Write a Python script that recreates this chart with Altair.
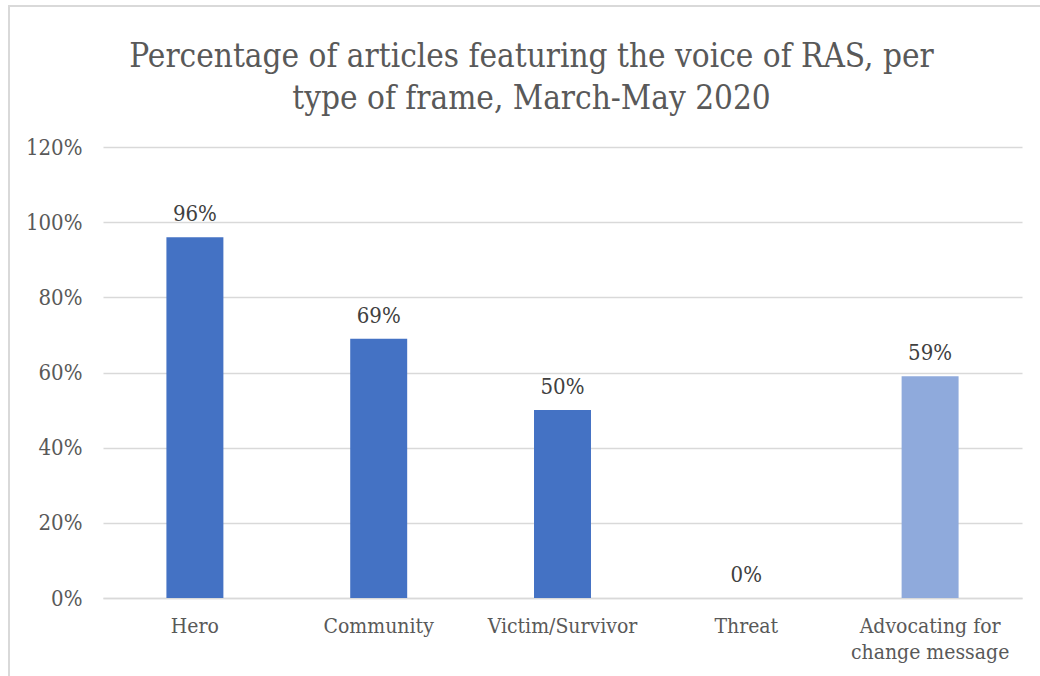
import altair as alt
import pandas as pd

categories = ["Hero", "Community", "Victim/Survivor", "Threat", "Advocating for change message"]
values = [0.96, 0.69, 0.50, 0.00, 0.59]
labels = ["96%", "69%", "50%", "0%", "59%"]
colors = ["#4472C4", "#4472C4", "#4472C4", "#4472C4", "#8FAADC"]
y_ticks = [0, 0.2, 0.4, 0.6, 0.8, 1.0, 1.2]
title_lines = ["Percentage of articles featuring the voice of RAS, per",
               "type of frame, March-May 2020"]

df = pd.DataFrame({"cat": categories, "val": values, "lab": labels, "col": colors})

FONT = "DejaVu Serif Condensed"

x_enc = alt.X("cat:N", sort=categories, title=None,
              scale=alt.Scale(paddingInner=0.69, paddingOuter=0.345),
              axis=alt.Axis(labelAngle=0, labelFont=FONT, labelFontSize=21,
                            labelColor="#595959", labelPadding=17, ticks=False,
                            domainColor="#d9d9d9", domainWidth=1.5,
                            labelLineHeight=26, labelLimit=300,
                            labelExpr="datum.value == 'Advocating for change message' ? ['Advocating for', 'change message'] : datum.label"))

y_enc = alt.Y("val:Q", title=None,
              scale=alt.Scale(domain=[0, 1.2], nice=False),
              axis=alt.Axis(values=y_ticks, format=".0%", labelFont=FONT,
                            labelFontSize=22, labelColor="#595959",
                            labelPadding=21, ticks=False, domain=False,
                            gridColor="#d9d9d9", gridWidth=1.3))

base = alt.Chart(df)

bars = base.mark_bar().encode(
    x=x_enc, y=y_enc,
    color=alt.Color("col:N", scale=None),
)

text = base.mark_text(font=FONT, fontSize=22, color="#404040",
                      baseline="alphabetic", dy=-16).encode(
    x=alt.X("cat:N", sort=categories),
    y=alt.Y("val:Q"),
    text="lab:N",
)

border = base.mark_rect(fill=None, stroke="#d9d9d9", strokeWidth=2).encode(
    x=alt.value(-94), x2=alt.value(1000),
    y=alt.value(-141), y2=alt.value(600),
)

chart = alt.layer(border, bars, text).properties(
    width=919, height=451,
    autosize=alt.AutoSizeParams(type="none"),
    padding={"left": 103, "top": 147, "right": 18, "bottom": 78},
    title=alt.TitleParams(title_lines, font=FONT, fontSize=33, fontWeight="normal",
                          color="#595959", anchor="middle", frame="group",
                          dx=-31, dy=111, offset=0, lineHeight=42),
).configure(background="white").configure_view(stroke=None)

chart.save("out.html", embed_options={"renderer": "svg", "actions": False})
